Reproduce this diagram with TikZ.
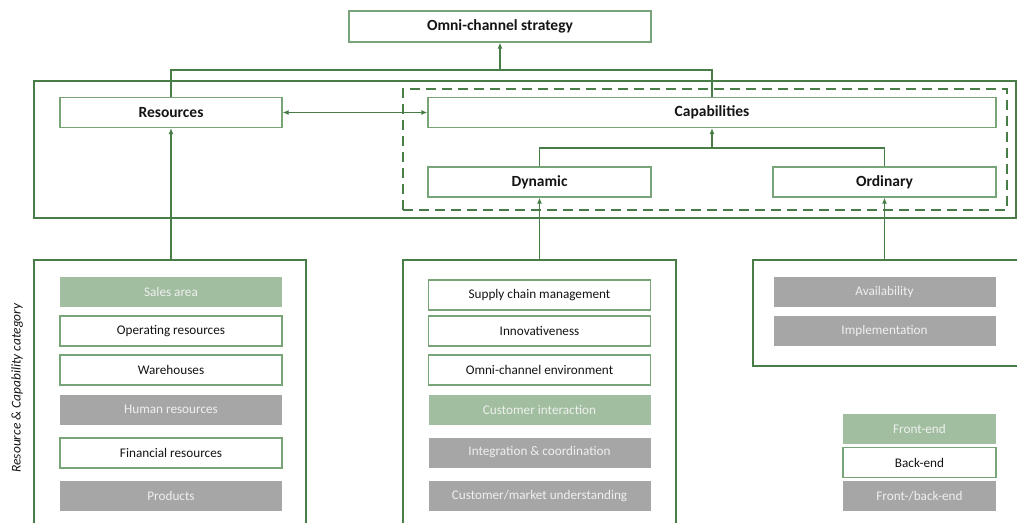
\documentclass[tikz,border=0pt]{standalone}
\usepackage{fontspec}
\setmainfont{Carlito}
\usetikzlibrary{arrows.meta}
\definecolor{lgreen}{RGB}{72,125,72}
\definecolor{bgreen}{RGB}{120,165,120}
\definecolor{fgreen}{RGB}{162,190,160}
\definecolor{fgray}{RGB}{166,166,166}
\definecolor{ltext}{RGB}{238,240,238}
\definecolor{dtext}{RGB}{20,20,20}
\tikzset{
  outbox/.style={draw=lgreen, line width=1.9pt, inner sep=0pt},
  hbox/.style={draw=bgreen, line width=1.2pt, fill=white, inner sep=0pt, minimum height=30pt, font=\fontsize{15.5}{18}\selectfont\bfseries, text=dtext},
  itemw/.style={draw=bgreen, line width=1.2pt, fill=white, inner sep=0pt, minimum width=222pt, minimum height=30pt, font=\fontsize{13.2}{16}\selectfont, text=dtext},
  itemg/.style={fill=fgreen, inner sep=0pt, minimum width=222pt, minimum height=30pt, font=\fontsize{13.2}{16}\selectfont, text=ltext},
  itemy/.style={fill=fgray, inner sep=0pt, minimum width=222pt, minimum height=30pt, font=\fontsize{13.2}{16}\selectfont, text=ltext},
  conn/.style={draw=lgreen, line width=1.9pt},
  arr/.style={conn, -{Latex[length=6pt,width=5pt]}},
  darr/.style={conn, {Latex[length=6pt,width=5pt]}-{Latex[length=6pt,width=5pt]}},
}
\begin{document}
\begin{tikzpicture}[x=1pt,y=-1pt]
\useasboundingbox (0,0) rectangle (1017,522);
% outer boxes
\node[outbox, minimum width=982pt, minimum height=137pt] (big) at (525,149.5) {};
\node[draw=lgreen, line width=2.6pt, dash pattern=on 10pt off 6pt, inner sep=0pt, minimum width=604pt, minimum height=121pt] (dash) at (705,149.5) {};
\node[outbox, minimum width=272pt, minimum height=272pt] (lbox) at (170,396) {};
\node[outbox, minimum width=273pt, minimum height=272pt] (mbox) at (539.5,396) {};
\node[outbox, minimum width=268pt, minimum height=106pt] (rbox) at (887,313) {};
% header nodes
\node[hbox, minimum width=302pt, minimum height=31pt] (omni) at (500,26.5) {Omni-channel strategy};
\node[hbox, minimum width=222pt] (res) at (171,112.5) {Resources};
\node[hbox, minimum width=568pt] (cap) at (712,112.5) {Capabilities};
\node[hbox, minimum width=223pt] (dyn) at (539.5,182) {Dynamic};
\node[hbox, minimum width=223pt] (ord) at (884.5,182) {Ordinary};
% left items
\node[itemg] (sales) at (171,292) {Sales area};
\node[itemw] (oper) at (171,331) {Operating resources};
\node[itemw] (ware) at (171,370) {Warehouses};
\node[itemy] (hum) at (171,409.5) {Human resources};
\node[itemw] (fin) at (171,453) {Financial resources};
\node[itemy] (prod) at (171,496) {Products};
% middle items
\node[itemw] (scm) at (539.5,295) {Supply chain management};
\node[itemw] (inno) at (539.5,331) {Innovativeness};
\node[itemw] (env) at (539.5,370) {Omni-channel environment};
\node[itemg] (cust) at (539.5,409.5) {Customer interaction};
\node[itemy] (integ) at (539.5,452.5) {Integration \& coordination};
\node[itemy] (mkt) at (539.5,496) {Customer/market understanding};
% right items
\node[itemy] (avail) at (884.5,292) {Availability};
\node[itemy] (impl) at (884.5,331) {Implementation};
% legend
\node[itemg, minimum width=153pt] (lfront) at (919.5,428.5) {Front-end};
\node[itemw, minimum width=153pt] (lback) at (919.5,462.5) {Back-end};
\node[itemy, minimum width=153pt] (lboth) at (919.5,496) {Front-/back-end};
% side label
\node[rotate=90, font=\fontsize{13.4}{16}\selectfont\itshape, text=dtext] (cat) at (17,388) {Resource \& Capability category};
% connectors
\coordinate (j1) at (500,70);
\coordinate (j2) at (712,148);
\draw[conn] (res.north) |- (j1) -| (cap.north);
\draw[arr] (j1) -- (omni.south);
\draw[darr] (res.east) -- (cap.west);
\draw[conn] (dyn.north) |- (j2) -| (ord.north);
\draw[arr] (j2) -- (cap.south);
\draw[arr] (lbox.north -| res.south) -- (res.south);
\draw[arr] (mbox.north) -- (dyn.south);
\draw[arr] (rbox.north -| ord.south) -- (ord.south);
\end{tikzpicture}
\end{document}
